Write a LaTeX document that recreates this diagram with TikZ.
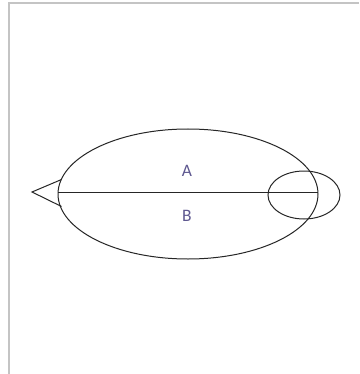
\documentclass[tikz,border=0pt]{standalone}
\usepackage{fontspec}
\setmainfont{Carlito}
\definecolor{frame}{HTML}{C4C4C4}
\definecolor{lbl}{HTML}{5E5890}
\tikzset{
  shape line/.style={draw=black!85, line width=1pt},
  lbltext/.style={text=lbl, font=\fontsize{17.5}{20}\selectfont, inner sep=0pt},
}
\begin{document}
\begin{tikzpicture}[x=1pt,y=-1pt]
\useasboundingbox (0,0) rectangle (359,374);
\fill[white] (0,0) rectangle (359,374);
% frame
\draw[frame, line width=2pt] (8.5,374) -- (8.5,3.5) -- (359,3.5);
% big ellipse
\draw[shape line] (188,194) ellipse [x radius=130, y radius=65];
% small ellipse
\draw[shape line] (304,195) ellipse [x radius=36, y radius=24];
% chord
\coordinate (L) at (58,192);
\coordinate (R) at (318,192);
\draw[shape line] (L) -- (R);
% triangle
\coordinate (tip) at (32,192);
\coordinate (tu) at (61.5,179.5);
\coordinate (tl) at (61.5,206.5);
\draw[shape line, line join=miter] (tu) -- (tip) -- (tl);
% labels
\node[lbltext] (A) at (187,170.5) {A};
\node[lbltext] (B) at (187,216) {B};
\end{tikzpicture}
\end{document}
